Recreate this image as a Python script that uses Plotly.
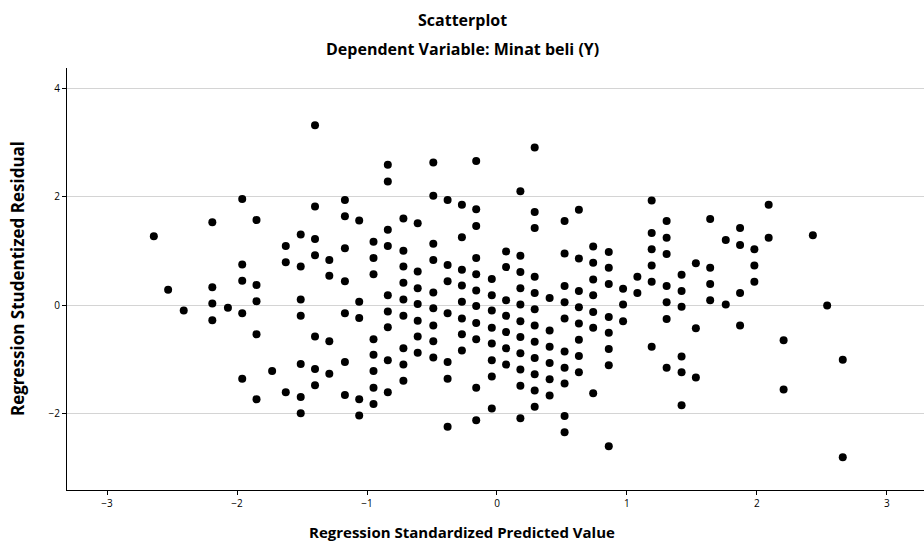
import plotly.graph_objects as go

# Regression standardized predicted value (x) and studentized residual (y), read by column
col_x = [-2.64, -2.53, -2.41, -2.19, -2.07, -1.96, -1.85, -1.73, -1.625, -1.51, -1.40, -1.29,
         -1.17, -1.06, -0.95, -0.84, -0.72, -0.61, -0.49, -0.38, -0.27, -0.16, -0.04, 0.07,
         0.18, 0.29, 0.405, 0.52, 0.63, 0.74, 0.86, 0.97, 1.08, 1.19, 1.305, 1.42, 1.53, 1.64,
         1.76, 1.87, 1.98, 2.09, 2.205, 2.43, 2.54, 2.66]
col_y = [
    [1.27],
    [0.28],
    [-0.10],
    [1.53, 0.33, 0.03, -0.28],
    [-0.05],
    [1.96, 0.75, 0.45, -0.15, -1.36],
    [1.57, 0.37, 0.07, -0.54, -1.74],
    [-1.22],
    [1.09, 0.79, -1.61],
    [1.30, 0.71, 0.10, -0.20, -1.09, -1.70, -2.00],
    [3.32, 1.82, 1.22, 0.92, -0.58, -1.18, -1.48],
    [0.83, 0.54, -0.67, -1.27],
    [1.94, 1.64, 1.05, 0.44, -0.15, -1.05, -1.66],
    [1.56, 0.06, -0.24, -1.74, -2.04],
    [1.17, 0.87, 0.57, -0.63, -0.92, -1.22, -1.53, -1.83],
    [2.59, 2.28, 1.39, 1.09, 0.18, -0.12, -0.41, -1.02, -1.61],
    [1.60, 1.00, 0.71, 0.41, 0.10, -0.20, -0.80, -1.10, -1.40],
    [1.51, 0.62, 0.31, 0.02, -0.29, -0.58, -0.88],
    [2.63, 2.02, 1.13, 0.83, 0.23, -0.06, -0.38, -0.67, -0.97],
    [1.94, 0.74, 0.44, -0.15, -1.05, -1.36, -2.25],
    [1.85, 1.25, 0.65, 0.36, 0.06, -0.25, -0.54, -0.84],
    [2.66, 1.77, 1.46, 0.87, 0.57, 0.27, -0.02, -0.33, -0.63, -1.53, -2.13],
    [0.48, 0.18, -0.10, -0.42, -0.71, -1.02, -1.32, -1.91],
    [0.99, 0.70, 0.09, -0.20, -0.50, -0.80, -1.10],
    [2.10, 0.91, 0.61, 0.31, 0.01, -0.30, -0.59, -0.89, -1.19, -1.49, -2.09],
    [2.91, 1.72, 1.42, 0.52, 0.22, -0.08, -0.38, -0.68, -0.98, -1.28, -1.58, -1.88],
    [0.13, -0.47, -0.77, -1.07, -1.37, -1.67],
    [1.55, 0.95, 0.35, 0.05, -0.25, -0.86, -1.16, -1.45, -2.05, -2.35],
    [1.76, 0.86, 0.26, -0.04, -0.34, -0.64, -0.94, -1.24],
    [1.08, 0.78, 0.47, 0.18, -0.13, -0.42, -1.63],
    [0.98, 0.69, 0.39, -0.22, -0.51, -0.81, -1.11, -2.61],
    [0.30, 0.01, -0.30],
    [0.52, 0.22],
    [1.93, 1.33, 1.03, 0.73, 0.43, -0.77],
    [1.55, 1.24, 0.94, 0.35, 0.05, -0.26, -1.16],
    [0.56, 0.26, -0.03, -0.95, -1.24, -1.85],
    [0.77, -0.43, -1.34],
    [1.59, 0.69, 0.39, 0.09],
    [1.20, 0.01],
    [1.42, 1.11, 0.22, -0.38],
    [1.03, 0.73, 0.43],
    [1.85, 1.24],
    [-0.65, -1.56],
    [1.29],
    [-0.01],
    [-1.01, -2.81],
]

x_ticks = [-3, -2, -1, 0, 1, 2, 3]
y_ticks = [-2, 0, 2, 4]

title_text = "Scatterplot"
subtitle_text = "Dependent Variable: Minat beli (Y)"
x_title = "Regression Standardized Predicted Value"
y_title = "Regression Studentized Residual"

xs, ys = [], []
for cx, cys in zip(col_x, col_y):
    for v in cys:
        xs.append(cx)
        ys.append(v)

FONT = "Open Sans, Arial"


def lab(t):
    return str(t) if t >= 0 else "\u2212" + str(-t)


fig = go.Figure()
fig.add_trace(go.Scatter(
    x=xs, y=ys, mode="markers",
    marker=dict(size=8, color="black", line=dict(width=0)),
    showlegend=False, hoverinfo="x+y",
))

fig.update_layout(
    width=924, height=544,
    margin=dict(l=67, r=0, t=68, b=54),
    paper_bgcolor="white", plot_bgcolor="white",
    font=dict(family=FONT, color="black"),
    xaxis=dict(
        range=[-3.308, 3.285], tickvals=x_ticks, ticktext=[lab(t) for t in x_ticks],
        showgrid=False, zeroline=False, showline=True, linecolor="black", linewidth=1,
        ticks="outside", ticklen=4, tickcolor="black", tickfont=dict(size=10, family=FONT),
        fixedrange=True,
    ),
    yaxis=dict(
        range=[-3.416, 4.377], tickvals=y_ticks, ticktext=[lab(t) for t in y_ticks],
        showgrid=True, gridcolor="#d4d4d4", gridwidth=1, zeroline=False,
        showline=True, linecolor="black", linewidth=1,
        ticks="outside", ticklen=4, tickcolor="black", tickfont=dict(size=10, family=FONT),
        fixedrange=True,
    ),
    annotations=[
        dict(text="<b>" + title_text + "</b>", xref="paper", yref="paper", x=0.461, y=1.1137,
             showarrow=False, font=dict(size=16, family=FONT), xanchor="center", yanchor="middle"),
        dict(text="<b>" + subtitle_text + "</b>", xref="paper", yref="paper", x=0.461, y=1.045,
             showarrow=False, font=dict(size=16, family=FONT), xanchor="center", yanchor="middle"),
        dict(text="<b>" + x_title + "</b>", xref="paper", yref="paper", x=0.461, y=-0.0995,
             showarrow=False, font=dict(size=15, family=FONT), xanchor="center", yanchor="middle"),
        dict(text="<b>" + y_title + "</b>", xref="paper", yref="paper", x=-0.0583, y=0.5,
             showarrow=False, font=dict(size=17, family=FONT), xanchor="center", yanchor="middle",
             textangle=-90),
    ],
)

fig.write_html("out.html", config={"displayModeBar": False},
               post_script="document.body.style.margin='0';")
